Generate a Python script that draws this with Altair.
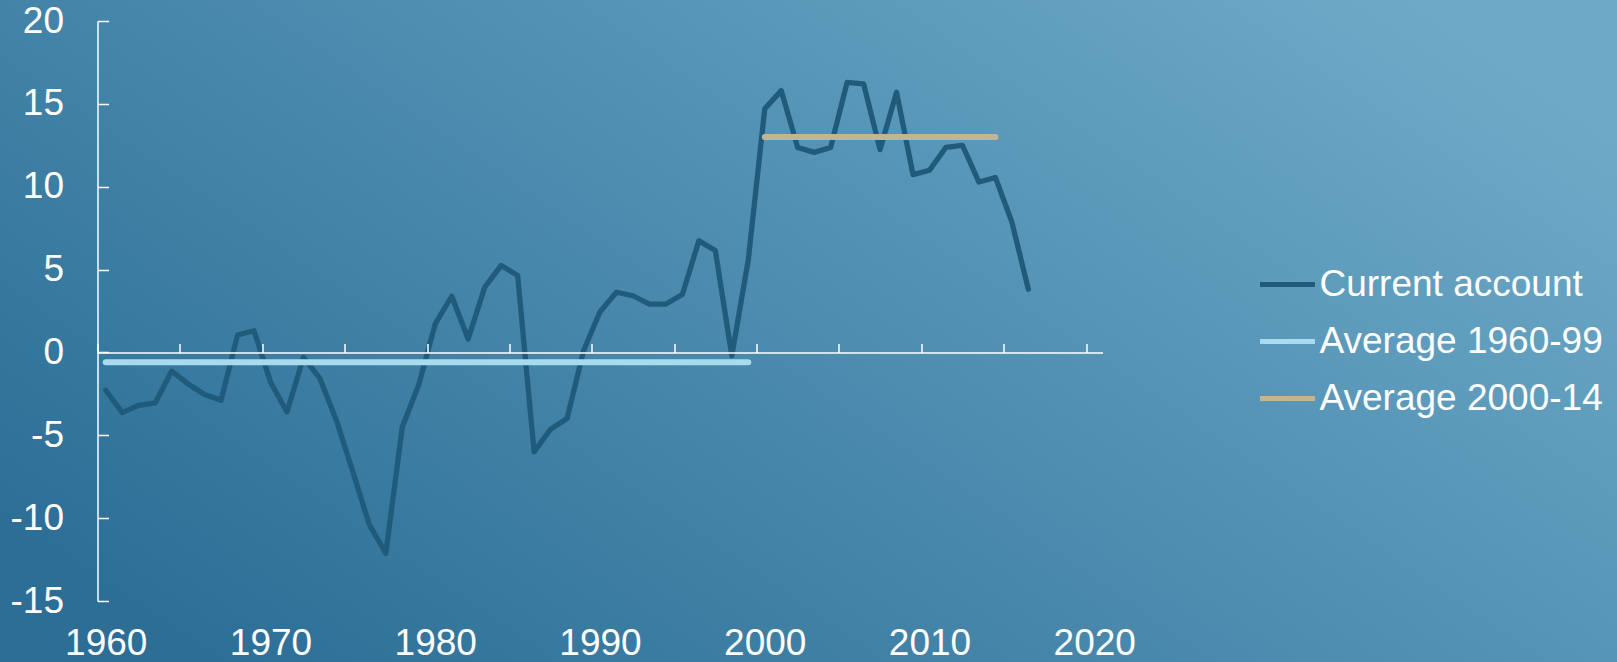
import altair as alt
import pandas as pd

# ---------------- data ----------------
years = list(range(1960, 2017))
current_account = [
    -2.28, -3.63, -3.19, -3.05, -1.13, -1.90, -2.54, -2.89, 1.05, 1.31,
    -1.78, -3.59, -0.30, -1.57, -4.10, -7.20, -10.40, -12.13, -4.50, -1.95,
    1.72, 3.39, 0.81, 3.93, 5.25, 4.64, -6.00, -4.63, -3.99, 0.10,
    2.45, 3.63, 3.42, 2.92, 2.92, 3.50, 6.73, 6.15, -0.20, 5.58,
    14.70, 15.80, 12.37, 12.07, 12.37, 16.30, 16.20, 12.24, 15.70, 10.73,
    10.99, 12.38, 12.50, 10.28, 10.56, 7.86, 3.81,
]
avg_names = ["Average 1960-99", "Average 2000-14"]
avg_start = [1960, 2000]
avg_end = [1999, 2014]
avg_values = [-0.6, 13.0]

series_names = ["Current account", "Average 1960-99", "Average 2000-14"]
series_colors = ["#215b7c", "#a9dbef", "#c4b592"]

x_label_years = [1960, 1970, 1980, 1990, 2000, 2010, 2020]
x_tick_marks = [1959.5 + 5 * i for i in range(13)]
y_ticks = [-15, -10, -5, 0, 5, 10, 15, 20]

# ---------------- tables ----------------
main_df = pd.DataFrame({"year": years, "value": current_account,
                        "series": "Current account"})
avg_rows = []
for n, s, e, v in zip(avg_names, avg_start, avg_end, avg_values):
    avg_rows.append({"year": s, "value": v, "series": n})
    avg_rows.append({"year": e, "value": v, "series": n})
avg_df = pd.DataFrame(avg_rows)

# ---------------- layout ----------------
W, H = 1005, 580
PL, PT = 97.5, 21
PR = 1617 - PL - W
PB = 662 - PT - H
FONT = "Liberation Sans"
FS = 37

x_scale = alt.Scale(domain=[1959.5, 2020.5], nice=False, zero=False)
y_scale = alt.Scale(domain=[-15, 20], nice=False, zero=False)
color_scale = alt.Scale(domain=series_names, range=series_colors)

legend = alt.Legend(
    orient="none", legendX=1160, legendY=233.5, title=None,
    symbolType="stroke", symbolSize=3025, symbolStrokeWidth=5,
    labelFontSize=FS, labelColor="white", labelFont=FONT,
    labelOffset=2, rowPadding=9, padding=0, labelLimit=0,
)

bg = alt.Chart(pd.DataFrame({"a": [0]})).mark_rect(
    color=alt.LinearGradient(
        gradient="linear",
        stops=[alt.GradientStop(color="#2c6e96", offset=0),
               alt.GradientStop(color="#6eaac8", offset=1)],
        x1=0, y1=0.8, x2=1, y2=0.2,
    ),
    strokeWidth=0,
).encode(
    x=alt.value(-PL), x2=alt.value(W + PR),
    y=alt.value(-PT), y2=alt.value(H + PB),
)

main = alt.Chart(main_df).mark_line(
    strokeWidth=5.3, strokeJoin="round", strokeCap="round"
).encode(
    x=alt.X("year:Q", scale=x_scale, axis=alt.Axis(
        orient="bottom", values=x_label_years, ticks=False, tickSize=0,
        domain=False, grid=False, labelFontSize=FS, labelColor="white",
        labelFont=FONT, labelPadding=24.5, labelFlush=False,
        labelOverlap=False, labelExpr="toString(datum.value)",
        title=None, zindex=1)),
    y=alt.Y("value:Q", scale=y_scale, axis=alt.Axis(
        orient="left", values=y_ticks, ticks=False, tickSize=0,
        domain=False, grid=False, labelFontSize=FS, labelColor="white",
        labelFont=FONT, labelPadding=34, labelExpr="toString(datum.value)",
        title=None, zindex=1)),
    color=alt.Color("series:N", scale=color_scale, legend=legend),
)

avgs = alt.Chart(avg_df).mark_line(
    strokeWidth=6, strokeCap="round"
).encode(
    x=alt.X("year:Q", scale=x_scale, axis=alt.Axis(
        orient="top", offset=-H * 20 / 35, values=x_tick_marks,
        labels=False, tickSize=9, tickColor="white", tickWidth=1.5,
        domainColor="white", domainWidth=1.5, grid=False, title=None,
        zindex=1)),
    y=alt.Y("value:Q", scale=y_scale, axis=alt.Axis(
        orient="right", offset=-W, values=y_ticks, labels=False,
        tickSize=11, tickColor="white", tickWidth=1.5,
        domainColor="white", domainWidth=1.5, grid=False, title=None,
        zindex=1)),
    color=alt.Color("series:N", scale=color_scale, legend=legend),
    detail="series:N",
)

chart = alt.layer(bg, main, avgs).resolve_axis(
    x="independent", y="independent"
).properties(
    width=W, height=H,
    autosize=alt.AutoSizeParams(type="none"),
    padding={"left": PL, "top": PT, "right": PR, "bottom": PB},
    background="#4d8caf",
).configure_view(stroke=None)

chart.save("out.html", embed_options={"renderer": "svg", "actions": False})
